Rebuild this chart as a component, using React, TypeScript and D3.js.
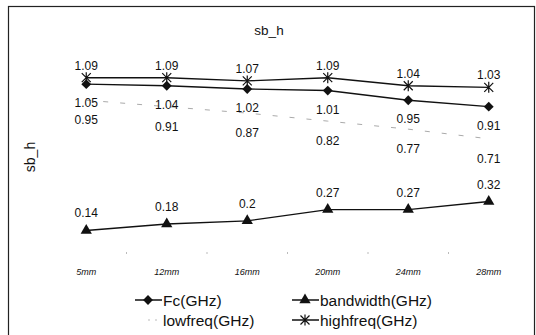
import React, { useEffect, useRef } from 'react';
import * as d3 from 'd3';

const categories = ['5mm', '12mm', '16mm', '20mm', '24mm', '28mm'];
const fc = [1.05, 1.04, 1.02, 1.01, 0.95, 0.91];
const bandwidth = [0.14, 0.18, 0.2, 0.27, 0.27, 0.32];
const lowfreq = [0.95, 0.91, 0.87, 0.82, 0.77, 0.71];
const highfreq = [1.09, 1.09, 1.07, 1.09, 1.04, 1.03];

const App = () => {
  const svgRef = useRef(null);

  useEffect(() => {
    const width = 536;
    const height = 335;
    const svg = d3.select(svgRef.current);
    svg.selectAll('*').remove();
    svg.attr('width', width).attr('height', height);

    svg.append('rect')
      .attr('width', width).attr('height', height)
      .attr('fill', '#fff');

    // outer frame (bottom edge falls outside the picture)
    svg.append('rect')
      .attr('x', 8.5).attr('y', 6.5)
      .attr('width', 526).attr('height', 345)
      .attr('fill', 'none')
      .attr('stroke', '#222')
      .attr('stroke-width', 1.2);

    const font = 'Liberation Sans, Arial, sans-serif';

    const x = d3.scaleBand().domain(categories).range([46, 529]);
    const cx = (d: string) => (x(d) as number) + x.bandwidth() / 2;
    const y = d3.scaleLinear().domain([0, 1.2]).range([253, 60]);

    // title and y label
    svg.append('text')
      .attr('x', 269).attr('y', 35)
      .attr('text-anchor', 'middle')
      .attr('font-family', font).attr('font-size', 13.5)
      .attr('fill', '#111')
      .text('sb_h');

    svg.append('text')
      .attr('transform', 'translate(35,157) rotate(-90)')
      .attr('text-anchor', 'middle')
      .attr('font-family', font).attr('font-size', 14)
      .attr('fill', '#111')
      .text('sb_h');

    // faint category tick marks
    svg.append('g')
      .selectAll('line')
      .data(categories.slice(1))
      .enter()
      .append('line')
      .attr('x1', d => x(d) as number).attr('x2', d => x(d) as number)
      .attr('y1', 252).attr('y2', 254)
      .attr('stroke', '#bbb');

    // x tick labels
    svg.append('g')
      .selectAll('text')
      .data(categories)
      .enter()
      .append('text')
      .attr('x', d => cx(d))
      .attr('y', 275)
      .attr('text-anchor', 'middle')
      .attr('font-family', font).attr('font-size', 9)
      .attr('font-style', 'italic')
      .attr('fill', '#111')
      .text(d => d);

    const line = d3.line<number>()
      .x((_, i) => cx(categories[i]))
      .y(d => y(d));

    const diamond = d3.symbol().type(d3.symbolDiamond2).size(62);
    const triangle = d3.symbol().type(d3.symbolTriangle).size(55);

    const drawStar = (g: any, px: number, py: number) => {
      const r = 4.5;
      g.append('path')
        .attr('d', `M${px - r},${py - r}L${px + r},${py + r}M${px - r},${py + r}L${px + r},${py - r}M${px},${py - r - 1}L${px},${py + r + 1}`)
        .attr('stroke', '#111').attr('stroke-width', 1.2).attr('fill', 'none');
    };

    const labels = (vals: number[], dy: number, fmt = (v: number) => String(v)) => {
      svg.append('g')
        .selectAll('text')
        .data(vals)
        .enter()
        .append('text')
        .attr('x', (_, i) => cx(categories[i]))
        .attr('y', d => y(d) + dy)
        .attr('text-anchor', 'middle')
        .attr('font-family', font).attr('font-size', 12)
        .attr('fill', '#111')
        .text(d => fmt(d));
    };

    // lowfreq: faint dashed line
    svg.append('path')
      .datum(lowfreq)
      .attr('d', line)
      .attr('fill', 'none')
      .attr('stroke', '#aaa')
      .attr('stroke-width', 1)
      .attr('stroke-dasharray', '5,12');

    // highfreq
    svg.append('path')
      .datum(highfreq)
      .attr('d', line)
      .attr('fill', 'none')
      .attr('stroke', '#111')
      .attr('stroke-width', 1.4);
    const hg = svg.append('g');
    highfreq.forEach((v, i) => drawStar(hg, cx(categories[i]), y(v)));

    // Fc
    svg.append('path')
      .datum(fc)
      .attr('d', line)
      .attr('fill', 'none')
      .attr('stroke', '#111')
      .attr('stroke-width', 1.4);
    svg.append('g')
      .selectAll('path')
      .data(fc)
      .enter()
      .append('path')
      .attr('d', diamond)
      .attr('transform', (d, i) => `translate(${cx(categories[i])},${y(d)})`)
      .attr('fill', '#111');

    // bandwidth
    svg.append('path')
      .datum(bandwidth)
      .attr('d', line)
      .attr('fill', 'none')
      .attr('stroke', '#111')
      .attr('stroke-width', 1.4);
    svg.append('g')
      .selectAll('path')
      .data(bandwidth)
      .enter()
      .append('path')
      .attr('d', triangle)
      .attr('transform', (d, i) => `translate(${cx(categories[i])},${y(d)})`)
      .attr('fill', '#111');

    const fmt2 = (v: number) => v.toFixed(2);
    labels(highfreq, -8, fmt2);
    labels(fc, 23, fmt2);
    labels(lowfreq, 24, fmt2);
    labels(bandwidth, -13);

    // legend
    const legend = svg.append('g').attr('font-family', font).attr('font-size', 15.5);
    const items = [
      { name: 'Fc(GHz)', x: 135, y: 300, kind: 'diamond' },
      { name: 'bandwidth(GHz)', x: 292, y: 300, kind: 'triangle' },
      { name: 'lowfreq(GHz)', x: 135, y: 320, kind: 'dash' },
      { name: 'highfreq(GHz)', x: 292, y: 320, kind: 'star' },
    ];
    items.forEach(it => {
      if (it.kind === 'dash') {
        legend.append('line')
          .attr('x1', it.x + 13).attr('x2', it.x + 25)
          .attr('y1', it.y).attr('y2', it.y)
          .attr('stroke', '#bbb').attr('stroke-dasharray', '2,5');
      } else {
        legend.append('line')
          .attr('x1', it.x).attr('x2', it.x + 27)
          .attr('y1', it.y).attr('y2', it.y)
          .attr('stroke', '#111').attr('stroke-width', 1.5);
      }
      if (it.kind === 'diamond') {
        legend.append('path').attr('d', diamond).attr('transform', `translate(${it.x + 13},${it.y})`).attr('fill', '#111');
      } else if (it.kind === 'triangle') {
        legend.append('path').attr('d', triangle).attr('transform', `translate(${it.x + 13},${it.y})`).attr('fill', '#111');
      } else if (it.kind === 'star') {
        drawStar(legend, it.x + 13, it.y);
      }
      legend.append('text')
        .attr('x', it.x + 28)
        .attr('y', it.y + 5.5)
        .attr('fill', '#111')
        .text(it.name);
    });
  }, []);

  return (
    <div style={{ position: 'fixed', left: 0, top: 0 }}>
      <svg ref={svgRef} style={{ display: 'block' }}></svg>
    </div>
  );
};

export default App;
